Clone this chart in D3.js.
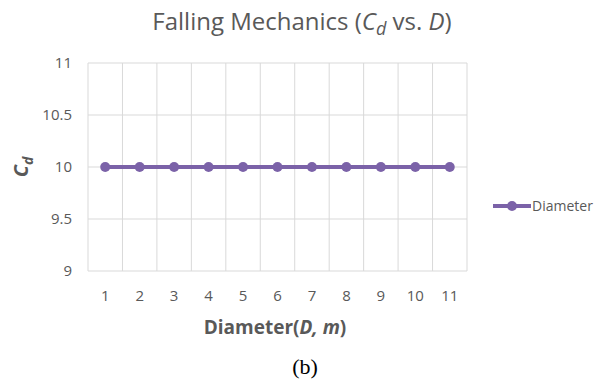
<!DOCTYPE html>
<html><head><meta charset="utf-8">
<script src="https://cdn.jsdelivr.net/npm/d3@7"></script>
<style>body{margin:0;background:#fff}text{font-family:"Open Sans","Noto Sans",sans-serif}</style>
</head><body><svg id="c" width="599" height="382"></svg>
<script>
const categories = ["1","2","3","4","5","6","7","8","9","10","11"];
const values = [10,10,10,10,10,10,10,10,10,10,10];
const yTicks = [9, 9.5, 10, 10.5, 11];
const seriesName = "Diameter";

const svg = d3.select("#c");
const m = {l:88, r:467, t:63, b:271};
const x = d3.scaleBand().domain(categories).range([m.l, m.r]);
const y = d3.scaleLinear().domain([9, 11]).range([m.b, m.t]);
const grid = "#d9d9d9", txt = "#595959", col = "#7B62A8";

svg.append("g").selectAll("line").data(yTicks).join("line")
  .attr("x1", m.l).attr("x2", m.r).attr("y1", d=>y(d)).attr("y2", d=>y(d))
  .attr("stroke", grid).attr("stroke-width", 1);
const edges = categories.map(c=>x(c)).concat([m.r]);
svg.append("g").selectAll("line").data(edges).join("line")
  .attr("x1", d=>d).attr("x2", d=>d).attr("y1", m.t).attr("y2", m.b)
  .attr("stroke", grid).attr("stroke-width", 1);

const ya = svg.append("g").attr("transform", `translate(${m.l},0)`)
  .call(d3.axisLeft(y).tickValues(yTicks).tickSize(0).tickPadding(16).tickFormat(d3.format("")));
ya.select(".domain").remove();
ya.selectAll("text").attr("fill", txt).style("font-size", "15px").style("font-family", '"Open Sans",sans-serif');

const xa = svg.append("g").attr("transform", `translate(0,${m.b})`)
  .call(d3.axisBottom(x).tickSize(0).tickPadding(19));
xa.select(".domain").remove();
xa.selectAll("text").attr("fill", txt).style("font-size", "15px").style("font-family", '"Open Sans",sans-serif');

const line = d3.line().x((d,i)=>x(categories[i])+x.bandwidth()/2).y(d=>y(d));
svg.append("path").datum(values).attr("d", line).attr("fill","none")
  .attr("stroke", col).attr("stroke-width", 4);
svg.append("g").selectAll("circle").data(values).join("circle")
  .attr("cx", (d,i)=>x(categories[i])+x.bandwidth()/2).attr("cy", d=>y(d))
  .attr("r", 5).attr("fill", col);

const t = svg.append("text").attr("x", 302).attr("y", 30).attr("text-anchor","middle")
  .attr("fill", txt).style("font-size","24px");
t.append("tspan").text("Falling Mechanics (");
t.append("tspan").attr("font-style","italic").text("C");
t.append("tspan").attr("font-style","italic").attr("dy",5).style("font-size","18px").text("d");
t.append("tspan").attr("dy",-5).text(" vs. ");
t.append("tspan").attr("font-style","italic").text("D");
t.append("tspan").text(")");

const yt = svg.append("text").attr("transform","translate(28,167) rotate(-90)")
  .attr("text-anchor","middle").attr("fill", txt).attr("font-weight","bold").style("font-size","20px");
yt.append("tspan").attr("font-style","italic").text("C");
yt.append("tspan").attr("font-style","italic").attr("dy",5).style("font-size","14px").text("d");

const xt = svg.append("text").attr("x", 275).attr("y", 334).attr("text-anchor","middle")
  .attr("fill", txt).attr("font-weight","bold").style("font-size","19px");
xt.append("tspan").text("Diameter(");
xt.append("tspan").attr("font-style","italic").text("D, m");
xt.append("tspan").text(")");

svg.append("line").attr("x1",493).attr("x2",531).attr("y1",206).attr("y2",206)
  .attr("stroke",col).attr("stroke-width",4);
svg.append("circle").attr("cx",512).attr("cy",206).attr("r",5).attr("fill",col);
svg.append("text").attr("x",532).attr("y",211).attr("fill",txt).style("font-size","14px").text(seriesName);

svg.append("text").attr("x",305).attr("y",374).attr("text-anchor","middle")
  .attr("fill","#000").style("font-family",'"Liberation Serif","DejaVu Serif",serif').style("font-size","22px").text("(b)");
</script></body></html>
